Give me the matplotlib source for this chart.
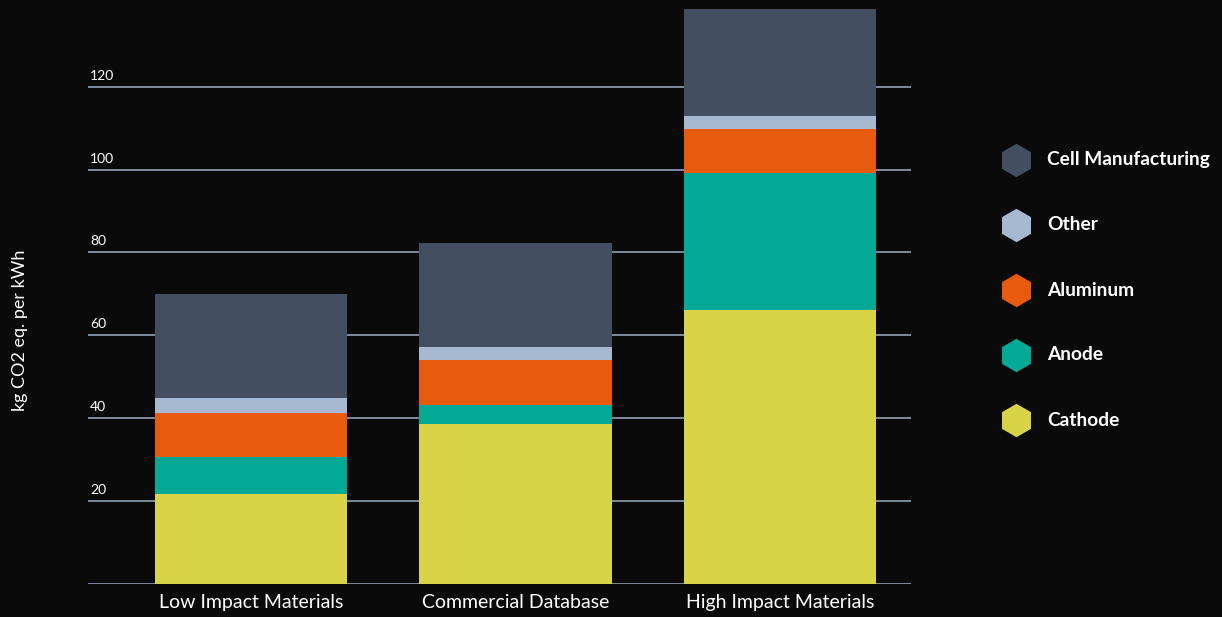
import matplotlib
matplotlib.use("Agg")
import matplotlib.pyplot as plt
import numpy as np

plt.rcParams['font.family'] = ['Lato', 'DejaVu Sans']

categories = ['Low Impact Materials', 'Commercial Database', 'High Impact Materials']
components = ['Cathode', 'Anode', 'Aluminum', 'Other', 'Cell Manufacturing']
values = {
    'Cathode':            [21.7, 38.6, 66.1],
    'Anode':              [8.9, 4.6, 33.1],
    'Aluminum':           [10.7, 10.9, 10.6],
    'Other':              [3.6, 3.1, 3.1],
    'Cell Manufacturing': [25.1, 25.1, 25.9],
}
colors = {
    'Cathode': '#d9d447',
    'Anode': '#03a994',
    'Aluminum': '#e85a0e',
    'Other': '#a7b8d1',
    'Cell Manufacturing': '#434e60',
}
yticks = [0, 20, 40, 60, 80, 100, 120]

bg = '#0a0a0a'
fig = plt.figure(figsize=(12.22, 6.17), dpi=100, facecolor=bg)
ax = fig.add_axes([0.072, 0.0535, 0.6735, 0.9465], facecolor=bg)

x = np.arange(len(categories))
bottom = np.zeros(len(categories))
for name in components:
    v = np.array(values[name])
    ax.bar(x, v, width=0.726, bottom=bottom, color=colors[name], zorder=3, linewidth=0)
    bottom += v

# horizontal guides with the value written above each one
for t in yticks:
    ax.axhline(t, color='#7f8a9c', lw=1.4, zorder=1)
    if t > 0:
        ax.text(-0.608, t + 1.2, str(t), color='white', fontsize=10,
                ha='left', va='bottom')

ax.set_xlim(-0.616, 2.495)
ax.set_ylim(0, 140.9)
ax.set_xticks(x)
ax.set_xticklabels(categories, color='white', fontsize=14)
ax.tick_params(axis='x', length=0, pad=7)
ax.set_yticks([])
for s in ax.spines.values():
    s.set_visible(False)

fig.text(0.0164, 0.465, 'kg CO2 eq. per kWh', rotation=90, color='white',
         fontsize=13, ha='center', va='center')

# legend with hexagon markers, top entry first
lax = fig.add_axes([0.80, 0.0, 0.20, 1.0], facecolor='none')
lax.set_xlim(0, 1)
lax.set_ylim(617, 0)
lax.axis('off')
legend_order = components[::-1]
for i, name in enumerate(legend_order):
    yy = 160 + 65 * i
    lax.scatter([0.157], [yy], marker='h', s=580, color=colors[name], linewidths=0)
    lax.text(0.284, yy, name, color='white', fontsize=13.8, fontweight='bold',
             ha='left', va='center')

fig.savefig('out.png', dpi=100, facecolor=bg)
